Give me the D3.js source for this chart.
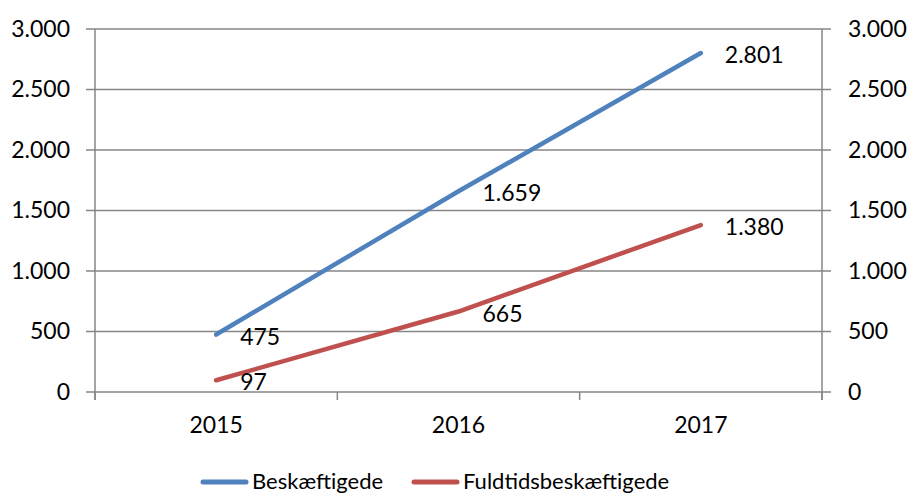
<!DOCTYPE html>
<html>
<head>
<meta charset="utf-8">
<script src="https://cdn.jsdelivr.net/npm/d3@7"></script>
<style>
  body { margin: 0; background: #fff; }
  text { font-family: Lato, "Open Sans", sans-serif; fill: #000; }
</style>
</head>
<body>
<div class="canvas"></div>
<script>
// data
const years = ['2015', '2016', '2017']
const beskaeftigede = [475, 1659, 2801]
const fuldtids = [97, 665, 1380]
const yTicks = [0, 500, 1000, 1500, 2000, 2500, 3000]
const seriesNames = ['Beskæftigede', 'Fuldtidsbeskæftigede']
const colors = ['#4F81BD', '#C0504D']

const width = 910
const height = 493
const margin = { top: 29, right: 88, bottom: 101, left: 95 }
const numSize = 23

const svg = d3.select('.canvas')
    .append('svg')
    .attr('width', width)
    .attr('height', height)

const x = d3.scaleBand()
    .domain(years)
    .range([margin.left, width - margin.right])

const y = d3.scaleLinear()
    .domain([0, 3000])
    .range([height - margin.bottom, margin.top])

const fmt = d => d3.format(',')(d).replace(/,/g, '.')
const gray = '#868686'

// gridlines
svg.append('g')
    .selectAll('line')
    .data(yTicks)
    .enter()
    .append('line')
    .attr('x1', margin.left - 9)
    .attr('x2', width - margin.right + 9)
    .attr('y1', d => y(d))
    .attr('y2', d => y(d))
    .attr('stroke', gray)
    .attr('stroke-width', 1.5)

// left axis
const yAxisLeft = svg.append('g')
    .attr('transform', `translate(${margin.left},0)`)
    .call(d3.axisLeft(y).tickValues(yTicks).tickFormat(fmt).tickSize(0).tickPadding(25))
yAxisLeft.select('.domain').remove()
yAxisLeft.selectAll('text').attr('font-size', numSize).attr('font-family', 'Lato')

// right axis
const yAxisRight = svg.append('g')
    .attr('transform', `translate(${width - margin.right},0)`)
    .call(d3.axisRight(y).tickValues(yTicks).tickFormat(fmt).tickSize(0).tickPadding(26))
yAxisRight.select('.domain').remove()
yAxisRight.selectAll('text').attr('font-size', numSize).attr('font-family', 'Lato')

// vertical axis lines
const bottom = height - margin.bottom
svg.append('g')
    .selectAll('line')
    .data([margin.left, width - margin.right])
    .enter()
    .append('line')
    .attr('x1', d => d)
    .attr('x2', d => d)
    .attr('y1', margin.top)
    .attr('y2', bottom + 8)
    .attr('stroke', gray)
    .attr('stroke-width', 1.5)

// x axis, tick marks at category boundaries
const xAxis = svg.append('g')
    .attr('transform', `translate(0,${bottom})`)
    .call(d3.axisBottom(x).tickSize(0).tickPadding(25))
xAxis.select('.domain').remove()
xAxis.selectAll('text').attr('font-size', numSize).attr('font-family', 'Lato')

const bounds = years.map(d => x(d)).concat([x(years[2]) + x.bandwidth()])
svg.append('g')
    .selectAll('line')
    .data(bounds)
    .enter()
    .append('line')
    .attr('x1', d => d)
    .attr('x2', d => d)
    .attr('y1', bottom)
    .attr('y2', bottom + 8)
    .attr('stroke', gray)
    .attr('stroke-width', 1.5)

// lines
const cx = d => x(d) + x.bandwidth() / 2
const line = d3.line()
    .x((d, i) => cx(years[i]))
    .y(d => y(d))

const series = [beskaeftigede, fuldtids]
series.forEach((s, k) => {
    svg.append('path')
        .datum(s)
        .attr('d', line)
        .attr('fill', 'none')
        .attr('stroke', colors[k])
        .attr('stroke-width', 4.5)
        .attr('stroke-linecap', 'round')
        .attr('stroke-linejoin', 'round')

    svg.append('g')
        .selectAll('text')
        .data(s)
        .enter()
        .append('text')
        .attr('x', (d, i) => cx(years[i]) + 24)
        .attr('y', d => y(d) + 2)
        .attr('dy', '0.35em')
        .attr('font-size', numSize)
        .text(fmt)
})

// legend
const legendItems = [{ x: 201, name: seriesNames[0], c: colors[0] }, { x: 412, name: seriesNames[1], c: colors[1] }]
const legend = svg.append('g')
legend.selectAll('line')
    .data(legendItems)
    .enter()
    .append('line')
    .attr('x1', d => d.x + 2)
    .attr('x2', d => d.x + 45)
    .attr('y1', 482)
    .attr('y2', 482)
    .attr('stroke', d => d.c)
    .attr('stroke-width', 5)
    .attr('stroke-linecap', 'round')
legend.selectAll('text')
    .data(legendItems)
    .enter()
    .append('text')
    .attr('x', d => d.x + 51)
    .attr('y', 489)
    .attr('font-size', 22)
    .text(d => d.name)
</script>
</body>
</html>
